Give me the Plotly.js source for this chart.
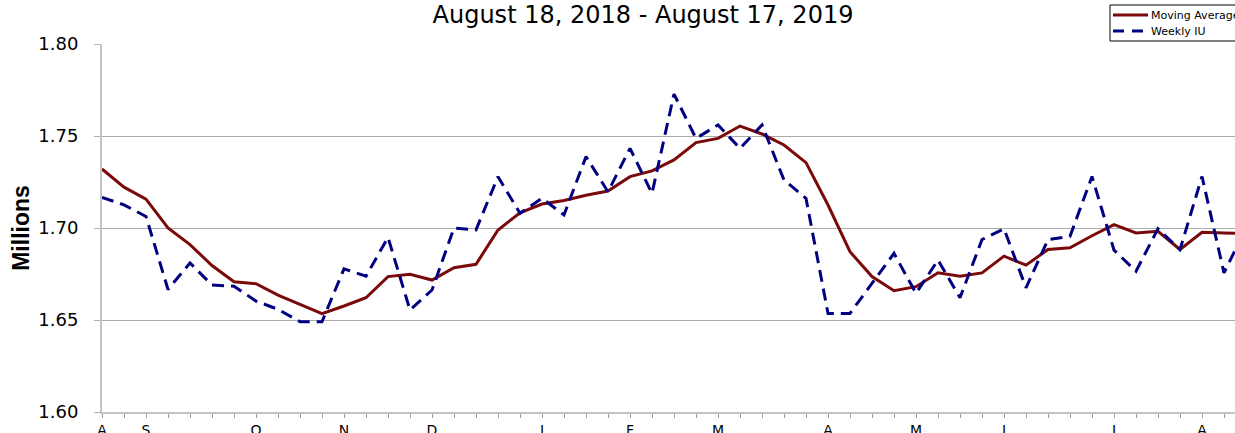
<!DOCTYPE html>
<html>
<head>
<meta charset="utf-8">
<script src="https://cdn.plot.ly/plotly-3.0.1.min.js"></script>
<style>
html,body{margin:0;padding:0;background:#fff;overflow:hidden;}
#chart{width:1235px;height:433px;}
</style>
</head>
<body>
<div id="chart"></div>
<script>
// Week-ending dates (categories)
var weeks = [
  '2018-08-18','2018-08-25','2018-09-01','2018-09-08','2018-09-15','2018-09-22','2018-09-29',
  '2018-10-06','2018-10-13','2018-10-20','2018-10-27','2018-11-03','2018-11-10','2018-11-17',
  '2018-11-24','2018-12-01','2018-12-08','2018-12-15','2018-12-22','2018-12-29','2019-01-05',
  '2019-01-12','2019-01-19','2019-01-26','2019-02-02','2019-02-09','2019-02-16','2019-02-23',
  '2019-03-02','2019-03-09','2019-03-16','2019-03-23','2019-03-30','2019-04-06','2019-04-13',
  '2019-04-20','2019-04-27','2019-05-04','2019-05-11','2019-05-18','2019-05-25','2019-06-01',
  '2019-06-08','2019-06-15','2019-06-22','2019-06-29','2019-07-06','2019-07-13','2019-07-20',
  '2019-07-27','2019-08-03','2019-08-10','2019-08-17'
];

// Weekly insured unemployment (millions)
var weeklyIU = [
  1.7166, 1.7126, 1.7063, 1.6666, 1.6810, 1.6690, 1.6684, 1.6603, 1.6558, 1.6491,
  1.6491, 1.6778, 1.6738, 1.6949, 1.6554, 1.6663, 1.7000, 1.6990, 1.7279, 1.7080,
  1.7161, 1.7071, 1.7388, 1.7197, 1.7433, 1.7188, 1.7728, 1.7487, 1.7560, 1.7433,
  1.7560, 1.7261, 1.7161, 1.6536, 1.6536, 1.6700, 1.6862, 1.6645, 1.6826, 1.6621,
  1.6937, 1.6996, 1.6675, 1.6937, 1.6955, 1.7280, 1.6880, 1.6765, 1.6996, 1.6883,
  1.7280, 1.6756, 1.7000
];

// Moving average (millions)
var movingAvg = [
  1.7321, 1.7222, 1.7157, 1.7000, 1.6910, 1.6796, 1.6708, 1.6697, 1.6635, 1.6585,
  1.6534, 1.6576, 1.6621, 1.6736, 1.6748, 1.6717, 1.6784, 1.6803, 1.6989, 1.7083,
  1.7130, 1.7149, 1.7178, 1.7201, 1.7279, 1.7310, 1.7370, 1.7464, 1.7487, 1.7554,
  1.7511, 1.7451, 1.7355, 1.7125, 1.6871, 1.6736, 1.6659, 1.6681, 1.6757, 1.6738,
  1.6756, 1.6847, 1.6798, 1.6883, 1.6892, 1.6958, 1.7018, 1.6973, 1.6982, 1.6883,
  1.6977, 1.6973, 1.6970
];

var monthInitials = ['J','F','M','A','M','J','J','A','S','O','N','D'];
var yTicks = [1.60, 1.65, 1.70, 1.75, 1.80];
var titleText = 'August 18, 2018 - August 17, 2019';
var seriesNames = ['Moving Average', 'Weekly IU'];
var seriesColors = ['#7a0a0a', '#000080'];
var seriesDash = ['solid', '12px,7px'];

var tickText = weeks.map(function (d, i) {
  var parts = d.split('-');
  var m = parseInt(parts[1], 10) - 1;
  var day = parseInt(parts[2], 10);
  return (i === 0 || day <= 7) ? monthInitials[m] : '';
});

var FONT = 'DejaVu Sans, Arial, sans-serif';
var W = 1235, H = 433;
function cx(px) { return px / W; }
function cy(py) { return 1 - py / H; }

var traces = [
  {
    x: weeks, y: movingAvg, name: seriesNames[0], type: 'scatter', mode: 'lines',
    line: {color: seriesColors[0], width: 3, dash: seriesDash[0]}
  },
  {
    x: weeks, y: weeklyIU, name: seriesNames[1], type: 'scatter', mode: 'lines',
    line: {color: seriesColors[1], width: 3, dash: seriesDash[1]}
  }
];

// Compact boxed legend in the top-right corner (as in the reference)
var legendRows = [15, 31];
var legendShapes = [
  {type: 'rect', xref: 'paper', yref: 'paper', layer: 'above',
   x0: (1110 - 102) / 1133, x1: (1245 - 102) / 1133,
   y0: 1 + (44 - 5) / 368, y1: 1 + (44 - 41) / 368,
   line: {color: '#000', width: 1}, fillcolor: '#ffffff'}
];
var legendAnn = [];
seriesNames.forEach(function (name, k) {
  var yy = 1 + (44 - legendRows[k]) / 368;
  legendShapes.push({type: 'line', xref: 'paper', yref: 'paper', layer: 'above',
    x0: (1113 - 102) / 1133, x1: (1148 - 102) / 1133, y0: yy, y1: yy,
    line: {color: seriesColors[k], width: 3, dash: k === 1 ? '11px,8px' : 'solid'}});
  legendAnn.push({xref: 'paper', yref: 'paper', x: (1149 - 102) / 1133, y: yy,
    xanchor: 'left', yanchor: 'middle', showarrow: false, text: name,
    font: {family: FONT, size: 11, color: '#000'}});
});

var layout = {
  width: W, height: H,
  margin: {l: 102, r: 0, t: 44, b: 21, pad: 0, autoexpand: false},
  paper_bgcolor: '#ffffff', plot_bgcolor: '#ffffff',
  showlegend: false,
  title: {
    text: titleText,
    font: {family: FONT, size: 24, color: '#000'},
    x: cx(643), xref: 'container', xanchor: 'center',
    y: cy(15), yref: 'container', yanchor: 'middle'
  },
  xaxis: {
    type: 'category',
    range: [0, (1235 - 102) / 22],
    tickmode: 'array', tickvals: weeks, ticktext: tickText,
    ticks: 'outside', ticklen: 4, tickwidth: 1, tickcolor: '#a0a0a0',
    showgrid: false, zeroline: false,
    showline: true, linecolor: '#c4c4c4', linewidth: 2,
    tickfont: {family: FONT, size: 14, color: '#000'},
    tickangle: 0, fixedrange: true, automargin: false
  },
  yaxis: {
    range: [1.60, 1.80],
    tickmode: 'array', tickvals: yTicks, tickformat: '.2f',
    ticks: 'outside', ticklen: 6, tickwidth: 1, tickcolor: '#b0b0b0',
    showgrid: true, gridcolor: '#ababab', gridwidth: 1,
    zeroline: false, showline: true, linecolor: '#c4c4c4', linewidth: 2,
    tickfont: {family: FONT, size: 18, color: '#000'},
    ticklabelstandoff: 12,
    title: {text: 'Millions', font: {family: 'Liberation Sans, Arial, sans-serif', size: 23, color: '#000', weight: 'bold'}, standoff: 2},
    fixedrange: true, automargin: false
  },
  shapes: legendShapes,
  annotations: legendAnn
};

Plotly.newPlot('chart', traces, layout, {displayModeBar: false, staticPlot: true});
</script>
</body>
</html>
